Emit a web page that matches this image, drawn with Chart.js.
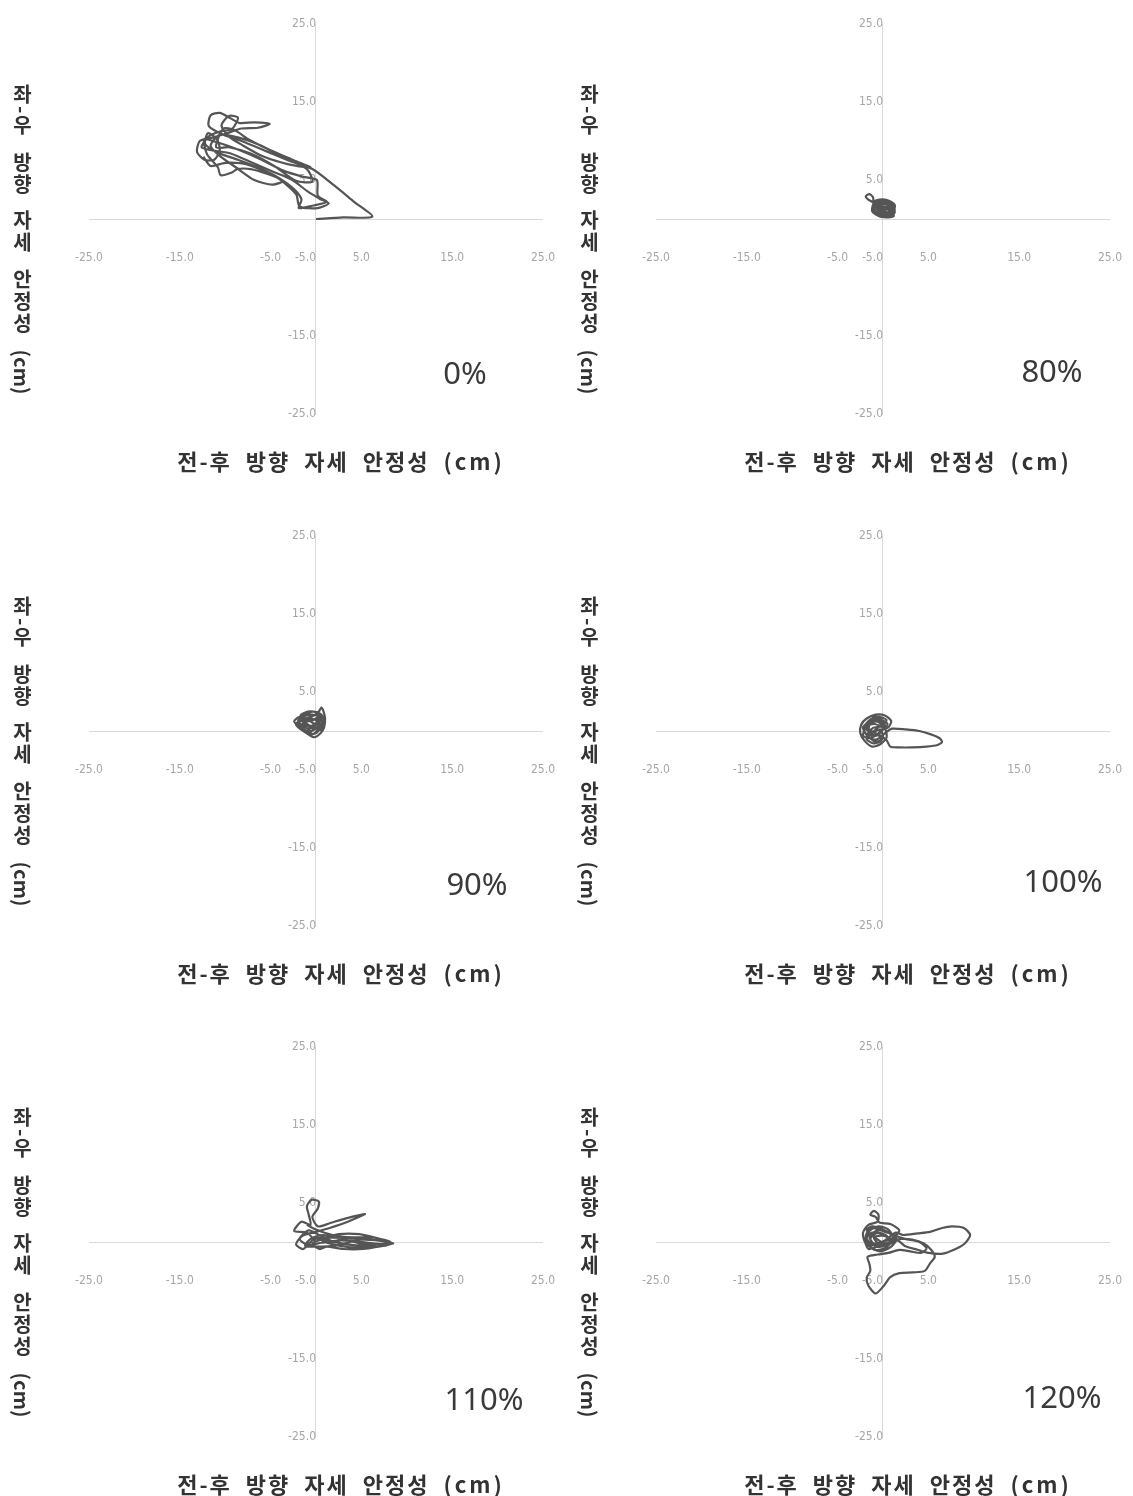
<!DOCTYPE html>
<html>
<head>
<meta charset="utf-8">
<script src="https://cdn.jsdelivr.net/npm/chart.js@4"></script>
<style>
  body { margin: 0; background: #fff; }
  #wrap { position: relative; width: 1133px; height: 1496px; overflow: hidden; }
  .panel { position: absolute; width: 566px; height: 511px; }
  .panel canvas { position: absolute; left: 0; top: 0; }
  .ytitle {
    position: absolute; left: 10px; top: 84px;
    writing-mode: vertical-rl; text-orientation: mixed;
    font-family: "Noto Sans CJK KR", sans-serif; font-weight: 700;
    font-size: 20px; line-height: 24px; letter-spacing: 2px; word-spacing: 8px; color: #333;
  }
  .xtitle {
    position: absolute; left: 341px; top: 446px; transform: translateX(-50%);
    white-space: nowrap;
    font-family: "Noto Sans CJK KR", sans-serif; font-weight: 700;
    font-size: 22px; line-height: 28px; letter-spacing: 2px; word-spacing: 7px; color: #333;
  }
  .cm { letter-spacing: 0; }
  .xtitle .cm { letter-spacing: 3px; }
  .pct {
    position: absolute; transform: translate(-50%, -50%);
    font-family: "Noto Sans", sans-serif; font-size: 31px; color: #3a3a3a;
  }
</style>
</head>
<body>
<div id="wrap"></div>
<script>
// ---- data ----
const xTicks = [-25, -15, -5, 5, 15, 25];
const yTicks = [-25, -15, -5, 5, 15, 25];
const xTitle = "전-후 방향 자세 안정성";
const yTitle = "좌-우 방향 자세 안정성";
const unitText = "(cm)";
const panelLabels = ["0%", "80%", "90%", "100%", "110%", "120%"];

// 궤적 (x: 전-후, y: 좌-우), cm
const path0 = [[0,0],[3,0.2],[6.2,0.3],[4.2,2.2],[2.0,4.3],[-0.4,6.4],[-2.8,7.4],[-5.5,8.7],[-8.2,10.0],[-10.2,10.8],
  [-11.8,11.9],[-11.6,13.3],[-10.6,13.6],[-9.4,12.9],[-8.4,12.3],[-6.8,12.4],[-5.1,12.2],[-6.4,11.7],[-8.2,11.6],[-9.8,11.0],
  [-11.5,10.4],[-12.8,10.0],[-13.1,8.6],[-12.3,7.6],[-11.2,7.6],[-10.6,8.8],[-10.9,10.2],[-11.9,11.0],[-12.2,9.6],[-10.8,8.5],
  [-8.6,7.6],[-6.2,6.5],[-4.0,5.2],[-2.4,3.8],[-1.6,2.5],[-1.9,1.4],[-0.4,1.7],[1.2,2.2],[0.2,3.0],[0.1,5.0],
  [-1.4,5.4],[-3.6,6.2],[-6.0,7.6],[-8.6,8.9],[-10.8,9.8],[-12.3,10.2],[-12.0,8.3],[-10.8,6.6],[-10.5,5.6],[-9.2,6.0],
  [-8.7,6.4],[-7.2,6.4],[-5.4,5.8],[-3.6,4.9],[-4.8,4.4],[-6.8,5.0],[-8.8,6.6],[-10.6,8.1],[-11.6,9.4],[-10.6,10.8],
  [-8.4,10.4],[-6.0,9.4],[-3.4,7.8],[-1.0,6.4],[-0.4,4.8],[-2.2,4.9],[-4.6,6.8],[-7.2,8.4],[-9.6,9.2],[-11.0,9.2],
  [-10.2,11.6],[-9.0,11.4],[-7.4,10.2],[-5.0,8.8],[-2.6,7.6],[-0.6,6.6],[-3.0,7.0],[-5.8,8.0],[-8.0,9.4],[-9.6,10.6],
  [-10.4,12.0],[-9.6,13.2],[-8.6,13.0],[-9.2,11.6],[-10.6,11.2],[-11.8,10.6],[-12.6,9.2],[-11.4,8.8],[-9.4,8.4],[-7.0,7.2],
  [-4.6,6.0],[-2.6,5.0],[-1.0,3.6],[0.4,2.6],[1.4,2.0],[0.2,1.4],[-1.8,1.6],[-2.2,3.2],[-4.4,5.4],[-7.6,7.0],
  [-10.0,7.2],[-11.6,6.8],[-12.4,8.0]];
const path80 = [[0,0.3],[0.8,0.6],[1.2,1.2],[0.6,1.9],[-0.4,2.3],[-1.1,1.8],[-0.8,0.9],[0.2,0.5],[1.1,0.9],[1.3,1.8],
  [0.4,2.4],[-0.6,2.0],[-1.5,2.4],[-1.9,2.9],[-1.5,3.2],[-1.1,2.8],[-1.0,2.1],[-0.2,1.4],[0.7,1.1],[1.2,0.4],
  [0.3,0.2],[-0.7,0.6],[-1.1,1.3],[-0.3,2.1],[0.8,2.2],[1.3,1.5],[0.9,0.7],[-0.1,0.9],[-0.8,1.6],[0.1,1.9],
  [1.0,1.6],[0.5,0.8],[-0.4,0.4],[-0.9,1.1],[-0.2,1.7],[0.6,1.4],[1.1,2.0],[0.2,2.5],[-0.9,2.3],[-1.2,1.0],
  [-0.3,0.3],[0.9,0.3],[1.3,1.0],[0.4,1.6],[-0.5,1.2],[0,0.6],[0.5,0.4],[1.3,0.8],[0.8,1.7],[-0.2,2.2],
  [-1.0,1.5],[-0.6,0.5],[0.6,0.9],[1.2,1.7],[0.3,2.0],[-0.7,1.7],[-0.4,0.7],[0.7,0.5],[1.1,1.3],[0.1,1.2],
  [-0.9,0.8],[-0.2,0.3],[0.9,1.2],[0.5,2.1],[-0.5,1.6],[0.2,1.0],[1.0,0.6],[0.6,1.5],[-0.3,1.1],[-0.8,2.0],
  [0.0,2.3],[0.9,1.9],[1.3,1.1],[0.4,0.5]];
const path90 = [[-0.5,0.2],[0.4,0.6],[0.9,1.4],[0.5,2.2],[-0.3,2.5],[-1.2,2.1],[-2.0,1.7],[-2.4,1.2],[-1.8,0.5],[-1.0,-0.3],
  [-0.2,-0.8],[0.5,-0.3],[0.9,0.5],[1.0,1.6],[0.8,2.6],[0.6,3.0],[0.2,2.3],[-0.6,1.8],[-1.5,1.5],[-2.1,1.0],
  [-1.3,0.2],[-0.4,-0.4],[0.3,0.3],[0.6,1.2],[-0.2,1.5],[-1.0,1.2],[-1.6,0.8],[-0.8,0.3],[0.1,0.9],[0.7,1.8],
  [0.0,2.4],[-0.9,2.5],[-1.7,2.0],[-1.1,1.6],[-0.3,1.0],[0.5,0.8],[0.2,-0.1],[-0.6,-0.5],[-1.4,0.0],[-2.2,0.8],
  [-1.6,1.3],[-0.5,1.3],[0.3,1.8],[-0.1,0.5],[0.4,0.2],[0.8,1.0],[0.3,1.9],[-0.6,2.1],[-1.5,1.8],[-2.0,1.2],
  [-1.2,0.5],[-0.5,0.0],[0.2,0.6],[0.0,1.4],[-0.8,1.6],[-1.4,1.0],[-0.7,0.6],[0.3,1.2],[0.5,2.0],[-0.4,2.0],
  [-1.2,1.4],[-1.9,1.5],[-1.0,0.9],[-0.2,0.4],[0.6,0.1],[0.8,0.9],[-0.1,0.8],[-0.9,0.2],[-0.3,-0.4],[0.4,0.4]];
const path100 = [[-0.5,0],[0.6,0.5],[0.9,1.3],[0.2,2.0],[-0.8,2.1],[-1.8,1.6],[-2.4,0.8],[-2.5,-0.3],[-2.0,-1.3],[-1.2,-2.0],
  [-0.3,-1.7],[0.4,-0.8],[0.2,0.4],[-0.6,1.2],[-1.5,1.0],[-2.1,0.2],[-1.6,-0.8],[-0.7,-1.1],[0.3,-0.2],[1.0,0.3],
  [2.5,0.2],[4.0,0.0],[5.2,-0.4],[6.2,-0.9],[6.5,-1.4],[6.0,-1.8],[4.8,-2.0],[3.2,-2.1],[1.8,-2.1],[0.8,-2.0],
  [0.4,-1.2],[-0.4,-0.5],[-1.3,0.0],[-1.9,0.8],[-1.2,1.6],[-0.3,1.5],[0.5,0.9],[-0.1,0.1],[-1.0,-0.6],[-1.9,-0.3],
  [-2.2,0.5],[-1.4,1.3],[-0.5,1.8],[0.4,1.4],[-0.2,0.6],[-1.1,0.4],[-1.7,-0.5],[-0.8,-1.4],[0.0,-0.9],[-0.3,0.2],
  [-1.2,-0.2],[-2.0,0.4],[-1.6,1.2],[-0.6,1.4],[0.2,0.8],[-0.4,-0.2],[-1.4,-0.9],[-2.2,-0.6],[-1.8,0.6],[-0.9,0.9],
  [0.0,0.3],[-0.7,-0.6],[-1.6,0.0],[-1.0,1.9],[-0.1,1.1],[-0.8,0.2],[-1.8,-1.0],[-1.0,-1.6],[-0.2,-1.2],[-0.6,-0.3]];
const path110 = [[0,0],[-1.0,1.2],[-2.4,1.4],[-1.6,2.6],[-0.6,2.2],[-0.8,3.5],[-1.0,4.6],[-0.5,5.4],[0.3,5.2],[0.2,4.3],
  [-0.4,3.2],[0.2,2.0],[1.5,2.4],[3.2,3.0],[5.4,3.6],[3.5,2.6],[1.5,1.8],[0.0,1.3],[-1.5,0.8],[-2.2,-0.3],
  [-1.4,-0.9],[-0.3,0.3],[1.2,0.6],[3.2,0.5],[5.5,0.3],[7.5,0.1],[8.5,-0.2],[7.2,-0.5],[5.2,-0.9],[3.0,-0.9],
  [1.2,-0.6],[0.4,-0.9],[-0.4,-0.2],[0.8,0.4],[2.5,1.0],[4.8,1.0],[7.0,0.4],[8.2,0.0],[6.5,-0.3],[4.0,-0.4],
  [2.0,0.0],[0.5,0.8],[-0.8,1.5],[-1.8,0.4],[-0.9,-0.4],[0.6,-0.1],[2.8,0.2],[5.8,-0.1],[7.8,-0.4],[6.0,-0.7],
  [3.8,-0.7],[1.5,-0.2],[0.2,0.5],[1.0,0.2],[3.0,-0.2],[5.0,-0.5],[6.8,-0.6],[5.0,-0.2],[2.6,0.4],[0.8,0.9],
  [-0.6,0.4],[-1.2,-0.5],[0.0,-0.6],[2.0,-0.5],[4.4,0.2],[6.4,0.6],[4.0,0.6],[1.8,0.9],[0.0,1.6],[-1.0,2.2]];
const path120 = [[0,0],[1.2,0.6],[1.8,1.5],[0.8,2.3],[-0.4,2.5],[-0.8,3.2],[-1.4,3.5],[-1.0,4.0],[-0.5,3.5],[-0.6,2.6],
  [-1.6,2.2],[-2.2,1.2],[-2.0,0.0],[-1.2,-0.8],[-0.2,-1.2],[0.9,-0.6],[1.5,0.4],[0.6,1.2],[-0.6,1.5],[-1.5,0.7],
  [-1.0,-0.2],[0.2,0.2],[1.4,1.2],[2.2,0.9],[3.8,1.1],[5.2,1.3],[6.5,1.8],[7.6,2.0],[8.9,1.8],[9.6,0.9],
  [9.0,-0.2],[8.0,-0.9],[6.6,-1.5],[5.0,-1.4],[3.8,-1.0],[2.4,-0.5],[1.6,0.2],[0.4,-0.3],[-0.8,0.5],[-1.8,1.5],
  [-1.2,2.0],[0.0,1.6],[1.0,1.0],[2.4,0.4],[4.0,0.0],[4.8,-0.8],[4.2,-1.4],[3.0,-1.2],[1.8,-1.0],[0.6,-1.4],
  [-0.6,-1.6],[-1.7,-1.9],[-1.5,-2.8],[-1.4,-3.7],[-1.8,-4.6],[-1.6,-5.6],[-0.8,-6.6],[0.1,-5.6],[0.8,-4.5],[1.8,-4.0],
  [3.3,-3.9],[4.6,-3.7],[5.2,-2.7],[5.7,-1.9],[5.3,-1.0],[4.5,-0.2],[3.2,0.3],[2.0,0.4],[0.8,0.0],[-0.5,-0.5],
  [-1.6,-0.9],[-2.0,0.4],[-1.2,1.2],[0.2,0.9],[1.0,-0.2],[0.4,0.8],[-0.6,1.2],[-1.4,0.4],[-0.8,-0.6],[0.4,-0.4],
  [1.2,0.4],[0.6,1.6],[-0.5,2.0],[-1.5,1.4],[-1.8,0.2],[-1.0,-1.0],[0.2,-0.8],[1.0,0.2],[0.0,0.8],[-1.0,0.6],
  [-0.4,-0.3],[0.8,-0.2],[1.5,0.8],[0.2,1.3],[-1.2,1.8],[-1.9,0.8],[-1.2,-0.4],[0.0,-0.1],[0.6,0.6]];

const paths = [path0, path80, path90, path100, path110, path120];

// ---- layout ----
const panelLeft = [0, 567];
const panelTop = [0, 512, 1023];
const labelPos = [[465, 372], [485, 370], [477, 371], [496, 368], [484, 375], [495, 373]];

const wrap = document.getElementById("wrap");

paths.forEach((path, i) => {
    const panel = document.createElement("div");
    panel.className = "panel";
    panel.style.left = panelLeft[i % 2] + "px";
    panel.style.top = panelTop[Math.floor(i / 2)] + "px";

    // 캔버스를 조금 넓혀서 가운데 축 때문에 생기는 오른쪽 여백을 보정
    const canvas = document.createElement("canvas");
    canvas.width = 579;
    canvas.height = 511;
    panel.appendChild(canvas);

    const yt = document.createElement("div");
    yt.className = "ytitle";
    yt.innerHTML = yTitle + " <span class='cm'>" + unitText + "</span>";
    panel.appendChild(yt);

    const xt = document.createElement("div");
    xt.className = "xtitle";
    xt.innerHTML = xTitle + " <span class='cm'>" + unitText + "</span>";
    panel.appendChild(xt);

    const pct = document.createElement("div");
    pct.className = "pct";
    pct.textContent = panelLabels[i];
    pct.style.left = labelPos[i][0] + "px";
    pct.style.top = labelPos[i][1] + "px";
    panel.appendChild(pct);

    wrap.appendChild(panel);

    const tickFont = { family: "'Liberation Sans Narrow', 'DejaVu Sans Condensed', sans-serif", size: 12 };
    new Chart(canvas.getContext("2d"), {
        type: "scatter",
        data: {
            datasets: [{
                data: path.map(p => ({ x: p[0], y: p[1] })),
                showLine: true,
                borderColor: "#555555",
                borderWidth: 2.2,
                pointRadius: 0,
                tension: 0.25,
            }],
        },
        options: {
            responsive: false,
            animation: false,
            devicePixelRatio: 1,
            layout: { padding: { left: 89, right: 10, top: 24, bottom: 97 } },
            plugins: { legend: { display: false }, tooltip: { enabled: false } },
            scales: {
                x: {
                    type: "linear",
                    min: -25, max: 25,
                    position: { y: 0 },
                    grid: { display: false },
                    border: { color: "#d9d9d9", width: 1 },
                    afterBuildTicks: s => { s.ticks = xTicks.map(v => ({ value: v })); },
                    ticks: {
                        padding: 24, maxRotation: 0, color: "#a6a6a6", font: tickFont,
                        callback: v => v.toFixed(1)
                    }
                },
                y: {
                    type: "linear",
                    min: -25, max: 25,
                    position: { x: 0 },
                    grid: { display: false },
                    border: { color: "#d9d9d9", width: 1 },
                    afterBuildTicks: s => { s.ticks = yTicks.map(v => ({ value: v })); },
                    ticks: {
                        padding: 12, color: "#a6a6a6", font: tickFont,
                        callback: v => v.toFixed(1)
                    }
                }
            }
        }
    });
});
</script>
</body>
</html>
